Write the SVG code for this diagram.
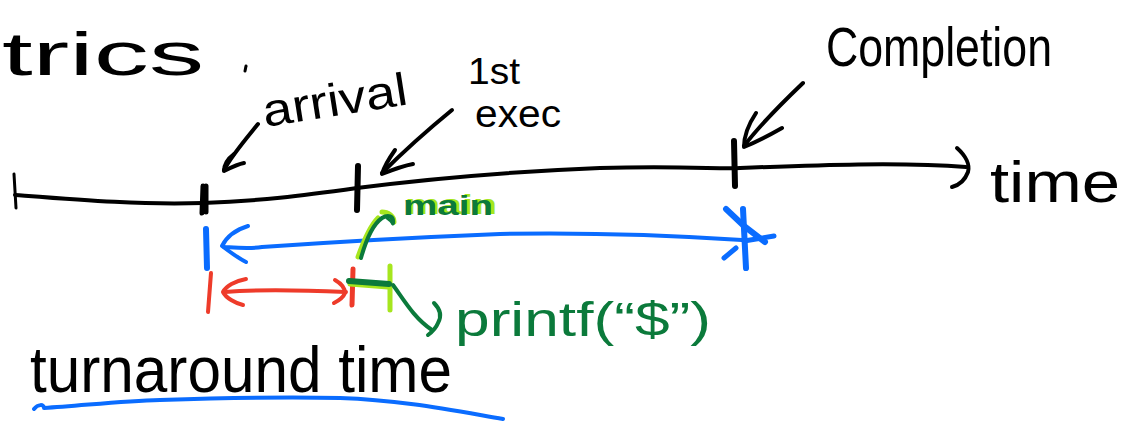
<svg xmlns="http://www.w3.org/2000/svg" width="1142" height="422" viewBox="0 0 1142 422">
  <style>
    .ink { fill: none; stroke-linecap: round; stroke-linejoin: round; }
    .k { stroke: #000; }
    .b { stroke: #0a6cff; }
    .r { stroke: #ee3b2a; }
    .g { stroke: #0b7a3b; }
    .l { stroke: #a6e61e; }
    .hand { font-family: "Liberation Sans", "DejaVu Sans", sans-serif; }
    .tk { fill: #000; }
    .tg { fill: #0b7a3b; }
  </style>
  <rect width="1142" height="422" fill="#fff"/>

  <!-- headings and labels -->
  <g id="title">
    <text class="hand tk" x="2" y="75" font-size="62" textLength="202" lengthAdjust="spacingAndGlyphs">trics</text>
    <path class="ink k" d="M246 66 L245 71" stroke-width="3"/>
  </g>
  <g id="label-arrival">
    <text class="hand tk" x="265" y="127" font-size="46" textLength="146" lengthAdjust="spacingAndGlyphs" transform="rotate(-9 265 127)">arrival</text>
  </g>
  <g id="label-first-exec">
    <text class="hand tk" x="468" y="84" font-size="36" textLength="52" lengthAdjust="spacingAndGlyphs">1st</text>
    <text class="hand tk" x="475" y="127" font-size="38" textLength="86" lengthAdjust="spacingAndGlyphs">exec</text>
  </g>
  <g id="label-completion">
    <text class="hand tk" x="826" y="66" font-size="56" textLength="226" lengthAdjust="spacingAndGlyphs">Completion</text>
  </g>
  <g id="label-time">
    <text class="hand tk" x="990" y="202" font-size="58" textLength="130" lengthAdjust="spacingAndGlyphs">time</text>
  </g>
  <g id="label-main">
    <text class="hand" x="405" y="214" font-size="27" font-weight="bold" fill="#a6e61e" textLength="92" lengthAdjust="spacingAndGlyphs">main</text>
    <text class="hand tg" x="403" y="215" font-size="27" font-weight="bold" textLength="90" lengthAdjust="spacingAndGlyphs">main</text>
  </g>
  <g id="label-printf">
    <text class="hand tg" x="455" y="336" font-size="48" textLength="256" lengthAdjust="spacingAndGlyphs">printf(“$”)</text>
  </g>
  <g id="label-turnaround">
    <text class="hand tk" x="30" y="392" font-size="64" textLength="422" lengthAdjust="spacingAndGlyphs">turnaround time</text>
  </g>

  <!-- timeline axis and ticks -->
  <g id="timeline">
    <path class="ink k" d="M15 195 C80 200 140 205 203 203 C260 201 300 196 357 188 C420 180 500 172 600 168 C680 166 720 169 740 168 C820 165 900 162 966 167" stroke-width="4"/>
    <path class="ink k" d="M957 148 C966 156 970 165 968 172 C965 180 960 185 952 187" stroke-width="4"/>
    <path class="ink k" d="M14 174 L16 208" stroke-width="3"/>
    <path class="ink k" d="M203 186 L202 213 M206 186 L206 212" stroke-width="5"/>
    <path class="ink k" d="M358 166 L357 210" stroke-width="6"/>
    <path class="ink k" d="M734 141 L735 186" stroke-width="6"/>
  </g>

  <!-- pointers and spans -->
  <g id="connectors">
    <!-- arrival pointer -->
    <path class="ink k" d="M258 124 C245 140 232 155 224 170" stroke-width="4"/>
    <path class="ink k" d="M234 154 C226 160 224 166 224 171 C230 168 238 164 244 163" stroke-width="4"/>
    <!-- first execution pointer -->
    <path class="ink k" d="M452 110 C430 128 405 150 382 173" stroke-width="4"/>
    <path class="ink k" d="M395 150 C388 160 384 167 382 174 C392 170 402 166 413 164" stroke-width="4"/>
    <!-- completion pointer -->
    <path class="ink k" d="M803 83 C782 103 760 125 744 146" stroke-width="4"/>
    <path class="ink k" d="M756 113 C748 125 744 137 744 147 C756 142 768 136 782 128" stroke-width="4"/>

    <!-- turnaround span (blue) -->
    <path class="ink b" d="M206 229 L207 268" stroke-width="6"/>
    <path class="ink b" d="M248 226 C235 230 226 238 222 246 C230 252 238 258 246 262" stroke-width="4"/>
    <path class="ink b" d="M224 247 C240 248 250 249 262 247 C320 243 400 238 500 234 C600 232 680 236 742 240" stroke-width="4"/>
    <path class="ink b" d="M743 209 L746 268" stroke-width="6"/>
    <path class="ink b" d="M726 209 L744 226 L765 242" stroke-width="6"/>
    <path class="ink b" d="M736 248 L724 258 M744 241 L774 236" stroke-width="5"/>

    <!-- response span (red) -->
    <path class="ink r" d="M211 273 L208 312" stroke-width="4"/>
    <path class="ink r" d="M246 279 C235 281 226 286 223 292 C226 298 235 303 243 305" stroke-width="4"/>
    <path class="ink r" d="M225 292 C260 289 300 290 346 292" stroke-width="4"/>
    <path class="ink r" d="M335 280 C342 284 345 288 345 293 C343 298 338 301 334 303" stroke-width="4"/>
    <path class="ink r" d="M353 269 L352 305" stroke-width="5"/>

    <!-- main / printf markers (green) -->
    <path class="ink l" d="M358 257 C364 240 370 226 378 218 M382 212 C388 212 394 216 394 222 M390 266 L390 310 M350 284 L388 287" stroke-width="5"/>
    <path class="ink g" d="M349 281 L389 284" stroke-width="6"/>
    <path class="ink g" d="M361 258 C366 240 372 225 382 218 C388 214 394 216 393 223" stroke-width="4"/>
    <path class="ink g" d="M387 218 C390 220 392 222 393 224" stroke-width="3"/>
    <path class="ink g" d="M393 285 C404 300 414 318 432 330" stroke-width="4"/>
    <path class="ink g" d="M434 303 C440 309 442 316 438 323 C436 328 432 332 428 335" stroke-width="4"/>

    <!-- underline -->
    <path class="ink b" d="M34 409 C38 404 44 404 44 408 C80 406 120 401 160 400 C220 398 300 397 340 398 C400 400 450 410 503 419" stroke-width="4"/>
  </g>
</svg>
